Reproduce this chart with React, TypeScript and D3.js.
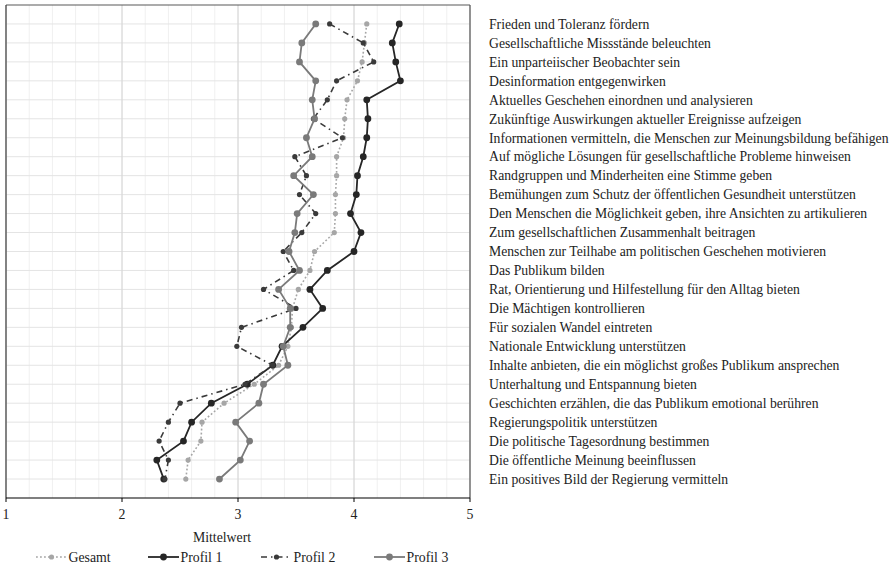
import React from "react";
import * as d3 from "d3";

const categories = [
  "Frieden und Toleranz fördern",
  "Gesellschaftliche Missstände beleuchten",
  "Ein unparteiischer Beobachter sein",
  "Desinformation entgegenwirken",
  "Aktuelles Geschehen einordnen und analysieren",
  "Zukünftige Auswirkungen aktueller Ereignisse aufzeigen",
  "Informationen vermitteln, die Menschen zur Meinungsbildung befähigen",
  "Auf mögliche Lösungen für gesellschaftliche Probleme hinweisen",
  "Randgruppen und Minderheiten eine Stimme geben",
  "Bemühungen zum Schutz der öffentlichen Gesundheit unterstützen",
  "Den Menschen die Möglichkeit geben, ihre Ansichten zu artikulieren",
  "Zum gesellschaftlichen Zusammenhalt beitragen",
  "Menschen zur Teilhabe am politischen Geschehen motivieren",
  "Das Publikum bilden",
  "Rat, Orientierung und Hilfestellung für den Alltag bieten",
  "Die Mächtigen kontrollieren",
  "Für sozialen Wandel eintreten",
  "Nationale Entwicklung unterstützen",
  "Inhalte anbieten, die ein möglichst großes Publikum ansprechen",
  "Unterhaltung und Entspannung bieten",
  "Geschichten erzählen, die das Publikum emotional berühren",
  "Regierungspolitik unterstützen",
  "Die politische Tagesordnung bestimmen",
  "Die öffentliche Meinung beeinflussen",
  "Ein positives Bild der Regierung vermitteln",
];

const gesamt = [4.11, 4.09, 4.07, 4.03, 3.94, 3.92, 3.91, 3.85, 3.85, 3.84, 3.84, 3.83, 3.66, 3.62, 3.52, 3.47, 3.46, 3.43, 3.35, 3.14, 2.88, 2.69, 2.68, 2.57, 2.55];
const profil1 = [4.39, 4.33, 4.36, 4.4, 4.11, 4.12, 4.11, 4.08, 4.03, 4.02, 3.97, 4.06, 4.0, 3.77, 3.62, 3.73, 3.56, 3.38, 3.3, 3.08, 2.77, 2.6, 2.53, 2.3, 2.36];
const profil2 = [3.79, 4.08, 4.17, 3.85, 3.77, 3.65, 3.9, 3.49, 3.59, 3.53, 3.67, 3.55, 3.39, 3.48, 3.22, 3.5, 3.03, 2.99, 3.3, 3.06, 2.5, 2.4, 2.32, 2.4, 2.37];
const profil3 = [3.67, 3.55, 3.53, 3.67, 3.64, 3.66, 3.59, 3.64, 3.48, 3.65, 3.51, 3.49, 3.44, 3.53, 3.35, 3.45, 3.45, 3.39, 3.43, 3.22, 3.18, 2.98, 3.1, 3.02, 2.84];

const xTicks = [1, 2, 3, 4, 5];
const minorTicks = d3.range(1, 5.001, 0.2);

const seriesNames = ["Gesamt", "Profil 1", "Profil 2", "Profil 3"];

const FONT = '"Liberation Serif", "Times New Roman", Times, "DejaVu Serif", serif';
const textStyle = { fontFamily: FONT };

export default function App() {
  const W = 895;
  const H = 566;
  const left = 6;
  const right = 470;
  const top = 5;
  const bottom = 498;

  const x = d3.scaleLinear().domain([1, 5]).range([left, right]);
  const y = d3.scalePoint<string>().domain(categories).range([top, bottom]).padding(1);

  const series = [
    { name: seriesNames[0], values: gesamt, color: "#a6a6a6", width: 1.6, dash: "1.8,2.2", r: 2.6 },
    { name: seriesNames[1], values: profil1, color: "#262626", width: 1.8, dash: null, r: 3.4 },
    { name: seriesNames[2], values: profil2, color: "#3a3a3a", width: 1.6, dash: "6,4,1.5,4", r: 2.6 },
    { name: seriesNames[3], values: profil3, color: "#7a7a7a", width: 1.8, dash: null, r: 3.4 },
  ];

  const line = d3
    .line<number>()
    .x((d) => x(d))
    .y((_, i) => y(categories[i]) as number);

  const legendX = [36, 148, 261, 374];
  const legendY = 557;

  return (
    <svg width={W} height={H} style={{ position: "absolute", left: 0, top: 0, background: "#fff" }}>
      <rect x={0} y={0} width={W} height={H} fill="#fff" />
      {minorTicks.map((t, i) => (
        <line key={"mv" + i} x1={x(t)} x2={x(t)} y1={top} y2={bottom} stroke="#f0f0f0" strokeWidth={1} />
      ))}
      {categories.map((c) => (
        <line key={"h" + c} x1={left} x2={right} y1={y(c)} y2={y(c)} stroke="#e4e4e4" strokeWidth={1} />
      ))}
      {xTicks.map((t) => (
        <line key={"v" + t} x1={x(t)} x2={x(t)} y1={top} y2={bottom} stroke="#d4d4d4" strokeWidth={1} />
      ))}
      <line x1={left} x2={right} y1={top} y2={top} stroke="#595959" strokeWidth={1.2} />
      <line x1={left} x2={left} y1={top} y2={bottom} stroke="#404040" strokeWidth={1.2} />
      <line x1={right} x2={right} y1={top} y2={bottom} stroke="#595959" strokeWidth={1.2} />
      <line x1={left} x2={right} y1={bottom} y2={bottom} stroke="#000" strokeWidth={1.2} />
      {xTicks.map((t) => (
        <g key={"t" + t}>
          <line x1={x(t)} x2={x(t)} y1={bottom} y2={bottom + 4} stroke="#000" strokeWidth={1} />
          <text x={x(t)} y={bottom + 21} textAnchor="middle" style={textStyle} fontSize={13.8} fill="#222">
            {t}
          </text>
        </g>
      ))}
      <text x={222} y={541.5} textAnchor="middle" style={textStyle} fontSize={13.8} fill="#222">
        Mittelwert
      </text>
      {series.map((s) => (
        <g key={s.name}>
          <path
            d={line(s.values) as string}
            fill="none"
            stroke={s.color}
            strokeWidth={s.width}
            strokeDasharray={s.dash ?? undefined}
          />
          {s.values.map((v, i) => (
            <circle key={i} cx={x(v)} cy={y(categories[i])} r={s.r} fill={s.color} />
          ))}
        </g>
      ))}
      {categories.map((c) => (
        <text key={"l" + c} x={489} y={(y(c) as number) + 4.8} style={textStyle} fontSize={13.7} fill="#222">
          {c}
        </text>
      ))}
      {series.map((s, i) => (
        <g key={"lg" + s.name}>
          <line
            x1={legendX[i]}
            x2={legendX[i] + 31}
            y1={legendY}
            y2={legendY}
            stroke={s.color}
            strokeWidth={s.width}
            strokeDasharray={s.dash ?? undefined}
          />
          <circle cx={legendX[i] + 15.5} cy={legendY} r={s.r} fill={s.color} />
          <text x={legendX[i] + 32.5} y={legendY + 4.8} style={textStyle} fontSize={13.8} fill="#222">
            {s.name}
          </text>
        </g>
      ))}
    </svg>
  );
}
